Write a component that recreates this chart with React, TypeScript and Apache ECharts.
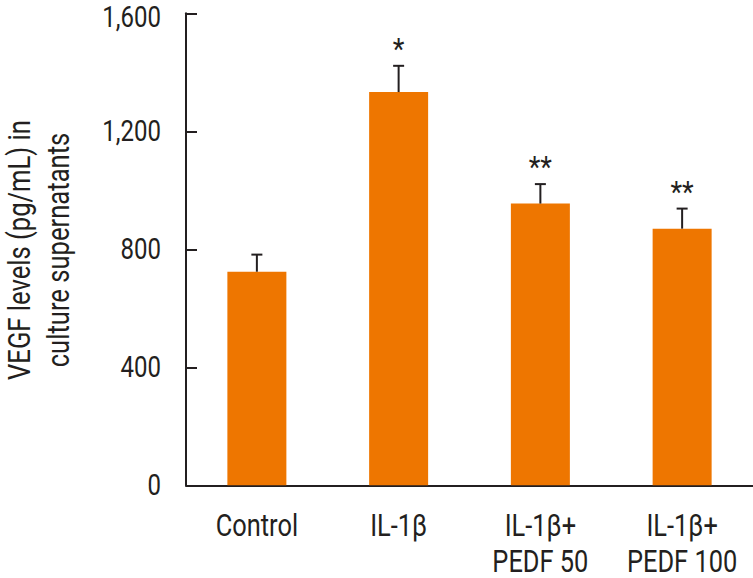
import React, { useEffect, useRef } from "react";
import * as echarts from "echarts";

const categories = ["Control", "IL-1β", "IL-1β+\nPEDF 50", "IL-1β+\nPEDF 100"];
const means = [724, 1333, 955, 870];
const errors = [58, 89, 66, 68];
const marks = ["", "*", "**", "**"];
const yTicks = [0, 400, 800, 1200, 1600];
const yTickLabels = ["0", "400", "800", "1,200", "1,600"];
const yNameLines = ["VEGF levels (pg/mL) in", "culture supernatants"];

const FONT = "Roboto, 'Liberation Sans', sans-serif";
const DARK = "#231f20";

export default function App() {
  const ref = useRef<HTMLDivElement>(null);
  useEffect(() => {
    if (!ref.current) return;
    const chart = echarts.init(ref.current, undefined, { renderer: "svg" });
    const errData = means.map((m, i) => [i, m, m + errors[i], marks[i]]);
    const xLabelData = categories.map((c, i) => [i, 0, c]);
    const yLabelData = yTicks.map((v, i) => [0, v, yTickLabels[i]]);
    const textStyle = (text: string, align: string, fs: number) => ({
      text,
      fill: DARK,
      font: `${fs}px ${FONT}`,
      textAlign: align,
      textVerticalAlign: "middle",
    });
    const Y_FS = 30;
    chart.setOption({
      animation: false,
      grid: { left: 186, right: 0, top: 13.3, bottom: 92.7 },
      xAxis: {
        type: "category",
        data: categories,
        axisLine: { lineStyle: { color: DARK, width: 2 } },
        axisTick: { show: false },
        axisLabel: { show: false },
      },
      yAxis: {
        type: "value",
        min: yTicks[0],
        max: yTicks[yTicks.length - 1],
        interval: 400,
        axisLine: { show: true, lineStyle: { color: DARK, width: 2 } },
        axisTick: { show: true, inside: true, length: 11, lineStyle: { color: DARK, width: 2 } },
        splitLine: { show: false },
        axisLabel: { show: false },
      },
      graphic: yNameLines.map((t, i) => ({
        type: "text",
        x: i === 0 ? 18.5 : 58,
        y: 250,
        rotation: Math.PI / 2,
        scaleX: 0.8,
        style: textStyle(t, "center", 32),
      })),
      series: [
        {
          type: "bar",
          data: means,
          barWidth: 59,
          itemStyle: { color: "#ee7600" },
        },
        {
          type: "custom",
          data: errData,
          z: 10,
          renderItem: (params: any, api: any) => {
            const x = api.value(0);
            const base = api.coord([x, api.value(1)]);
            const top = api.coord([x, api.value(2)]);
            const half = 5.5;
            const children: any[] = [
              {
                type: "line",
                shape: { x1: base[0], y1: base[1], x2: top[0], y2: top[1] },
                style: { stroke: DARK, lineWidth: 2 },
              },
              {
                type: "line",
                shape: { x1: top[0] - half, y1: top[1], x2: top[0] + half, y2: top[1] },
                style: { stroke: DARK, lineWidth: 2 },
              },
            ];
            const mk = errData[params.dataIndex][3] as string;
            if (mk) {
              children.push({
                type: "text",
                x: top[0],
                y: top[1] - 16.7,
                scaleX: 0.9,
                style: textStyle(mk, "center", 30),
              });
            }
            return { type: "group", children };
          },
        },
        {
          type: "custom",
          data: xLabelData,
          silent: true,
          renderItem: (params: any, api: any) => {
            const cs = params.coordSys;
            const px = api.coord([api.value(0), 0])[0];
            const lines = String(xLabelData[params.dataIndex][2]).split("\n");
            return {
              type: "group",
              children: lines.map((ln, k) => ({
                type: "text",
                x: px,
                y: cs.y + cs.height + 40 + k * 36,
                scaleX: 0.82,
                style: textStyle(ln, "center", 31),
              })),
            };
          },
        },
        {
          type: "custom",
          data: yLabelData,
          silent: true,
          renderItem: (params: any, api: any) => {
            const cs = params.coordSys;
            const py = api.coord([0, api.value(1)])[1];
            return {
              type: "text",
              x: cs.x - 25,
              y: Math.max(py, Y_FS * 0.56),
              scaleX: 0.8,
              style: textStyle(String(yLabelData[params.dataIndex][2]), "right", Y_FS),
            };
          },
        },
      ],
    });
    return () => chart.dispose();
  }, []);
  return (
    <div
      ref={ref}
      style={{ position: "absolute", left: 0, top: 0, width: 753, height: 578, background: "#fff" }}
    />
  );
}
